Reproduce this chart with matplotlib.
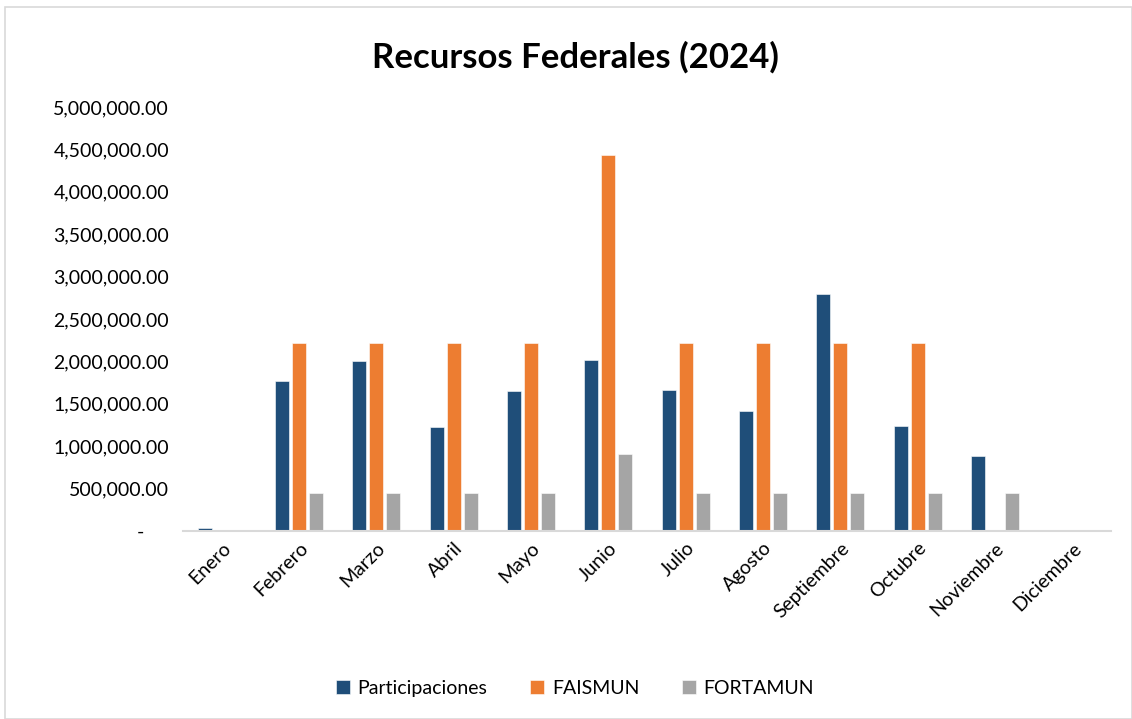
import matplotlib
matplotlib.use('Agg')
import matplotlib.pyplot as plt
from matplotlib.patches import Rectangle
from matplotlib.ticker import FuncFormatter
import numpy as np

plt.rcParams['font.family'] = ['Lato', 'DejaVu Sans']

meses = ['Enero', 'Febrero', 'Marzo', 'Abril', 'Mayo', 'Junio', 'Julio',
         'Agosto', 'Septiembre', 'Octubre', 'Noviembre', 'Diciembre']
participaciones = [32000, 1765000, 2005000, 1226000, 1655000, 2017000,
                   1663000, 1410000, 2795000, 1238000, 884000, 0]
faismun = [0, 2213000, 2213000, 2213000, 2213000, 4438000,
           2213000, 2213000, 2213000, 2213000, 0, 0]
fortamun = [0, 452000, 452000, 452000, 452000, 908000,
            452000, 452000, 452000, 452000, 452000, 0]

series = [('Participaciones', participaciones, '#1F4E79'),
          ('FAISMUN', faismun, '#ED7D31'),
          ('FORTAMUN', fortamun, '#A5A5A5')]

fig = plt.figure(figsize=(11.32, 7.19), dpi=100)
fig.patches.append(Rectangle((0.004, 0.0), 0.996, 0.99, transform=fig.transFigure,
                             fill=False, edgecolor='#D9D9D9', linewidth=1.2))
ax = fig.add_axes([0.1617, 0.2615, 0.8198, 0.5897])

x = np.arange(len(meses))
width = 0.18
offsets = [-0.22, 0.0, 0.22]
for (name, vals, color), off in zip(series, offsets):
    ax.bar(x + off, vals, width, color=color, label=name,
           edgecolor='white', linewidth=0.4)

ax.set_xlim(-0.5, len(meses) - 0.5)
ax.set_ylim(0, 5000000)
ax.set_yticks(np.arange(0, 5000001, 500000))

def fmt(v, pos):
    if v == 0:
        return '-     '
    return f'{v:,.2f}'

ax.yaxis.set_major_formatter(FuncFormatter(fmt))
ax.tick_params(axis='y', length=0, labelsize=14, pad=10, colors='#000000')
ax.tick_params(axis='x', length=0, labelsize=14, pad=6)
ax.set_xticks(x)
ax.set_xticklabels(meses, rotation=45, ha='right', rotation_mode='anchor')

for s in ['top', 'right', 'left']:
    ax.spines[s].set_visible(False)
ax.spines['bottom'].set_color('#D9D9D9')
ax.spines['bottom'].set_linewidth(1.5)

fig.text(0.508, 0.92, 'Recursos Federales (2024)', ha='center', va='center',
         fontsize=25, fontweight='bold')

fig.legend(loc='center', bbox_to_anchor=(0.508, 0.043), ncol=3, frameon=False,
           fontsize=14, handlelength=0.7, handleheight=0.7, columnspacing=2.2,
           handletextpad=0.4)

fig.savefig('out.png', dpi=100)
